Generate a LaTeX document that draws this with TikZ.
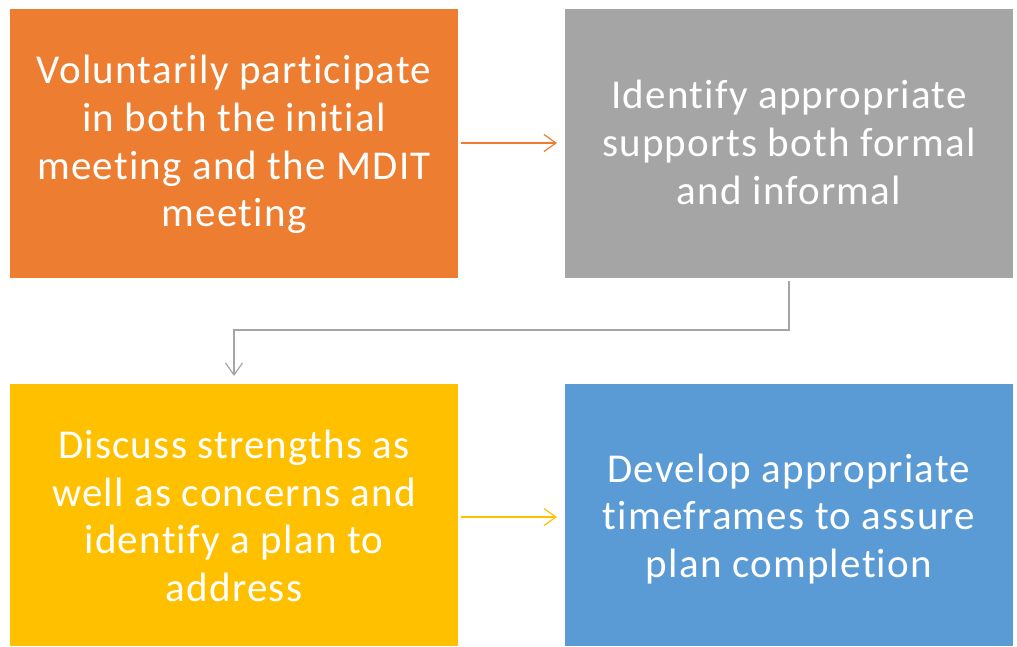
\documentclass[tikz,border=0pt]{standalone}
\usepackage{fontspec}
\setmainfont{Carlito}[Ligatures={NoCommon},LetterSpace=3]
\usetikzlibrary{arrows.meta}
\definecolor{corange}{HTML}{ED7D31}
\definecolor{cgray}{HTML}{A5A5A5}
\definecolor{cyellow}{HTML}{FFC000}
\definecolor{cblue}{HTML}{5B9BD5}
\tikzset{
  stepbox/.style={rectangle, inner sep=0pt, minimum width=448pt},
  steptext/.style={text=white, font=\fontsize{41pt}{47.8pt}\selectfont, align=center, inner sep=0pt},
  conn/.style={line width=1.2pt, -{Straight Barb[length=12pt,width=17pt,line width=1.2pt]}}
}
\begin{document}
\begin{tikzpicture}[x=1pt,y=-1pt]
\useasboundingbox (0,0) rectangle (1017,647);
\node[stepbox, fill=corange, minimum height=268pt] (a) at (234,143.5) {};
\node[steptext] (at) at (234,144.5) {Voluntarily participate\\in both the initial\\meeting and the MDIT\\meeting};
\node[stepbox, fill=cgray, minimum height=268pt] (b) at (789,143.5) {};
\node[steptext] (bt) at (789,142.5) {Identify appropriate\\supports both formal\\and informal};
\node[stepbox, fill=cyellow, minimum height=262pt] (c) at (234,515) {};
\node[steptext] (ct) at (234,516) {Discuss strengths as\\well as concerns and\\identify a plan to\\address};
\node[stepbox, fill=cblue, minimum height=262pt] (d) at (789,515) {};
\node[steptext] (dt) at (789,519) {Develop appropriate\\timeframes to assure\\plan completion};
\coordinate (a1) at (461,143);
\coordinate (b1) at (557,143);
\coordinate (c1) at (461,517);
\coordinate (d1) at (557,517);
\draw[conn, draw=corange] (a1) -- (b1);
\draw[conn, draw=cyellow] (c1) -- (d1);
\coordinate (g1) at (789,281);
\coordinate (g2) at (234,376);
\draw[conn, draw=cgray] (g1) -- (789,330) -- (234,330) -- (g2);
\end{tikzpicture}
\end{document}
